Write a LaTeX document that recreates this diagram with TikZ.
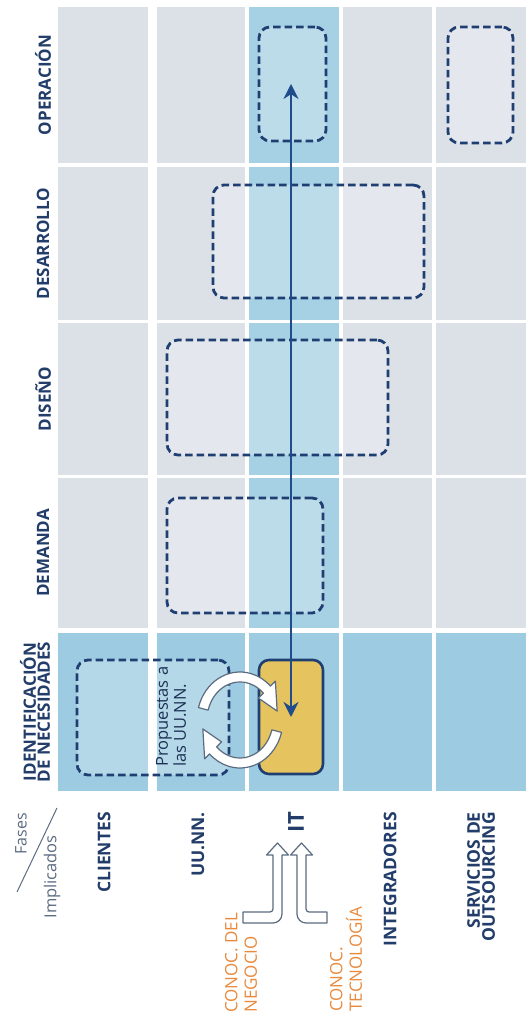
\documentclass[tikz,border=0pt]{standalone}
\usepackage{fontspec}
\setmainfont{Open Sans}
\usepackage{xcolor}
\usetikzlibrary{arrows.meta,positioning}
\definecolor{navytext}{HTML}{233D6A}
\definecolor{dashnavy}{HTML}{1F3F72}
\definecolor{cellgray}{HTML}{DCE0E7}
\definecolor{itblue}{HTML}{A6D1E4}
\definecolor{rowblue}{HTML}{9DCCE2}
\definecolor{itgold}{HTML}{E5C35E}
\definecolor{linkblue}{HTML}{1F4C8A}
\definecolor{conocorange}{HTML}{E8893C}
\definecolor{outlinegray}{HTML}{5B6B80}
\newcommand{\fsz}[2]{\fontsize{#1}{#2}\selectfont}

\begin{document}
\begin{tikzpicture}[x=1pt, y=1pt, fase/.style={rotate=90, inner sep=0pt, align=center, text=navytext, font=\bfseries\fsz{17}{14}}, impl/.style={rotate=90, inner sep=0pt, anchor=east, align=right, text=navytext, font=\bfseries\fsz{17.5}{15}}, conoc/.style={rotate=90, inner sep=0pt, anchor=west, align=left, text=conocorange, font=\fsz{17}{19.5}}, dbox/.style={draw=dashnavy, line width=2.8pt, dash pattern=on 7.5pt off 4pt, rounded corners=11pt, fill=white, fill opacity=0.25, inner sep=0pt}, itbox/.style={draw=dashnavy, line width=2.6pt, rounded corners=10pt, fill=itgold, inner sep=0pt}, link/.style={{Stealth[length=15pt,width=15pt]}-{Stealth[length=15pt,width=15pt]}, line width=2.2pt, draw=linkblue}, fat/.style={fill=white, draw=outlinegray, line width=1.2pt, line join=round}]
\useasboundingbox (0,0) rectangle (526,1034);
\foreach \ya/\yb [count=\r] in {871/1027,714/867,559/711,406/556,243/401}
  \foreach \xa/\xb [count=\c] in {58/148,157/245,249/339,343/432,436/526}{
    \ifnum\r=5 \def\cc{rowblue}\else\ifnum\c=3 \def\cc{itblue}\else\def\cc{cellgray}\fi\fi
    \fill[\cc] (\xa,\ya) rectangle (\xb,\yb);
  }
\node[fase] (operacion) at (43,949) {OPERACIÓN};
\node[fase] (desarrollo) at (43,790.5) {DESARROLLO};
\node[fase] (diseno) at (43,635) {DISEÑO};
\node[fase] (demanda) at (43,481) {DEMANDA};
\node[fase] (identif) at (35,322) {IDENTIFICACIÓN\\DE NECESIDADES};
\node[impl, font=\fsz{16}{16}, text=outlinegray] (fases) at (21,221) {Fases};
\node[impl, font=\fsz{16.5}{16}, text=outlinegray] (implicados) at (52,199) {Implicados};
\draw[outlinegray, line width=1pt] (17,142) -- (57,226);
\node[impl] (clientes) at (104,222) {CLIENTES};
\node[impl] (uunn) at (198,222) {UU.NN.};
\node[impl, font=\bfseries\fsz{22}{22}] (it) at (296,222) {IT};
\node[impl] (integradores) at (390,222) {INTEGRADORES};
\node[impl] (servicios) at (481,222) {SERVICIOS DE\\OUTSOURCING};
\node[conoc] (negocio) at (241,21) {CONOC. DEL\\NEGOCIO};
\node[conoc] (tecno) at (346,22) {CONOC.\\TECNOLOGÍA};
\node[dbox, minimum width=67pt, minimum height=114pt] (opit) at (292.5,950) {};
\node[dbox, minimum width=65pt, minimum height=116pt] (opserv) at (480.5,949) {};
\node[dbox, minimum width=211pt, minimum height=113pt] (desbox) at (318.5,792.5) {};
\node[dbox, minimum width=221pt, minimum height=115pt] (disbox) at (277.5,636.5) {};
\node[dbox, minimum width=156pt, minimum height=115pt] (dembox) at (245,478.5) {};
\node[dbox, minimum width=152pt, minimum height=115pt] (idbox) at (153,316.5) {};
\node[itbox, minimum width=64pt, minimum height=114pt] (itid) at (291,317) {};
\node[rotate=90, anchor=west, align=left, inner sep=0pt, text=navytext!80!black, font=\fsz{16.5}{18}] (prop) at (171,267) {Propuestas a\\las UU.NN.};
\draw[link] (itid.center) -- (itid.center |- opit.center);
\coordinate (cyc) at (240,314);
\foreach \a in {0,180}
  \filldraw[fat, shift={(cyc)}, rotate=\a] (165:43 and 48) arc[start angle=165, end angle=45, x radius=43, y radius=48] -- (45:50 and 55) -- (12:38 and 43) -- (45:26 and 31) -- (45:33 and 38) arc[start angle=45, end angle=165, x radius=33, y radius=38] -- cycle;
\filldraw[fat] (243,111) -- (273,111) arc[start angle=-90, end angle=0, radius=9] -- (282,179) -- (288.5,179) -- (277.5,191) -- (266.5,179) -- (273,179) -- (273,125) arc[start angle=0, end angle=-90, radius=3] -- (243,122) -- cycle;
\filldraw[fat] (327,111) -- (306,111) arc[start angle=-90, end angle=-180, radius=9] -- (297,179) -- (290.5,179) -- (301.5,191) -- (312.5,179) -- (306,179) -- (306,125) arc[start angle=180, end angle=270, radius=3] -- (327,122) -- cycle;
\end{tikzpicture}
\end{document}
